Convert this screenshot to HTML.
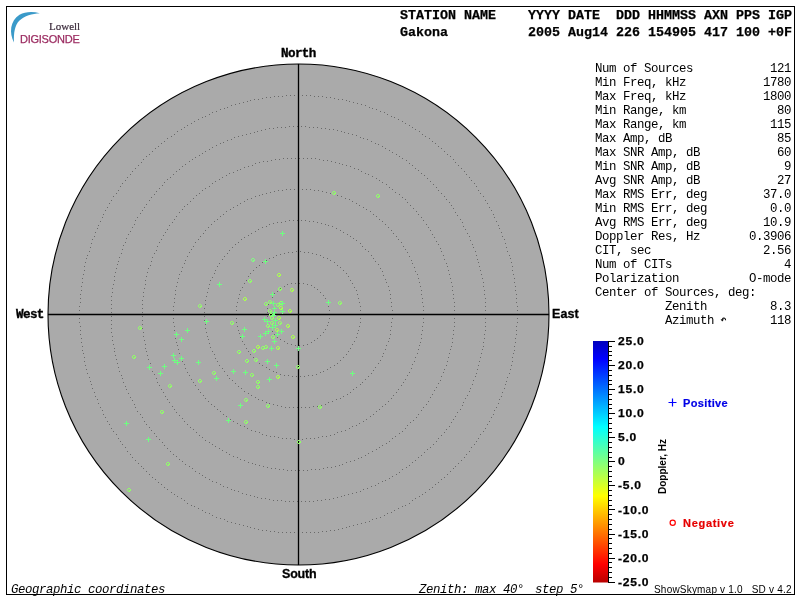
<!DOCTYPE html>
<html><head><meta charset="utf-8">
<style>
html,body{margin:0;padding:0;background:#fff;}
body{width:800px;height:600px;position:relative;overflow:hidden;}
.t{position:absolute;white-space:pre;line-height:1;will-change:transform;}
.hb{font-family:"Liberation Mono",monospace;font-weight:bold;font-size:13.33px;color:#000;-webkit-text-stroke:0.25px #000;}
.st{font-family:"Liberation Mono",monospace;font-size:12.4px;letter-spacing:-0.44px;color:#000;line-height:14px;}
.lb{font-family:"Liberation Mono",monospace;font-weight:bold;font-size:12px;color:#000;-webkit-text-stroke:0.35px #000;}
.cb{font-family:"Liberation Sans",sans-serif;font-weight:bold;font-size:11.2px;color:#000;letter-spacing:0.7px;transform:scaleX(1.08);transform-origin:0 0;-webkit-text-stroke:0.25px #000;}
.sb{font-family:"Liberation Sans",sans-serif;font-weight:bold;font-size:12.5px;color:#000;-webkit-text-stroke:0.3px #000;}
.it{font-family:"Liberation Mono",monospace;font-style:italic;font-size:12.4px;letter-spacing:-0.44px;color:#000;}
svg{position:absolute;left:0;top:0;}
</style></head><body>
<svg width="800" height="600" viewBox="0 0 800 600">
  <defs>
    <linearGradient id="jet" x1="0" y1="0" x2="0" y2="1">
      <stop offset="0" stop-color="#0000bc"/>
      <stop offset="0.0745" stop-color="#0000ff"/>
      <stop offset="0.356" stop-color="#00ffff"/>
      <stop offset="0.499" stop-color="#80ff80"/>
      <stop offset="0.642" stop-color="#ffff00"/>
      <stop offset="0.925" stop-color="#ff0000"/>
      <stop offset="1" stop-color="#b80000"/>
    </linearGradient>
  </defs>
  <rect x="6.5" y="6.5" width="788" height="588" fill="none" stroke="#000" stroke-width="1"/>
  <!-- logo arc -->
  <path d="M14 42.5 C 9 33, 10 21, 19.5 14.8 C 25 11.8, 32 11.2, 39.8 13.2 C 32 13.6, 24.5 15.8, 19.5 20.5 C 14.8 25, 13.5 33, 14 42.5 Z" fill="#3a9ac9"/>
  <circle cx="298.5" cy="314.5" r="250.5" fill="#aaaaaa" stroke="#000" stroke-width="1.1"/>
  <path d="M329 314h1v1h-1zM329 318h1v1h-1zM328 322h1v1h-1zM327 325h1v1h-1zM325 329h1v1h-1zM323 332h1v1h-1zM320 335h1v1h-1zM317 338h1v1h-1zM314 340h1v1h-1zM311 342h1v1h-1zM307 344h1v1h-1zM303 345h1v1h-1zM299 345h1v1h-1zM295 345h1v1h-1zM291 344h1v1h-1zM287 343h1v1h-1zM284 341h1v1h-1zM280 339h1v1h-1zM277 337h1v1h-1zM274 334h1v1h-1zM272 331h1v1h-1zM270 327h1v1h-1zM268 324h1v1h-1zM267 320h1v1h-1zM267 316h1v1h-1zM267 312h1v1h-1zM267 308h1v1h-1zM268 304h1v1h-1zM270 300h1v1h-1zM272 297h1v1h-1zM274 293h1v1h-1zM277 291h1v1h-1zM280 288h1v1h-1zM284 286h1v1h-1zM287 284h1v1h-1zM291 283h1v1h-1zM295 283h1v1h-1zM299 283h1v1h-1zM303 283h1v1h-1zM307 284h1v1h-1zM311 285h1v1h-1zM314 287h1v1h-1zM317 289h1v1h-1zM320 292h1v1h-1zM323 295h1v1h-1zM325 298h1v1h-1zM327 302h1v1h-1zM328 306h1v1h-1zM329 310h1v1h-1zM361 314h1v1h-1zM360 318h1v1h-1zM360 322h1v1h-1zM359 326h1v1h-1zM358 330h1v1h-1zM357 333h1v1h-1zM356 337h1v1h-1zM354 341h1v1h-1zM352 344h1v1h-1zM350 348h1v1h-1zM348 351h1v1h-1zM346 354h1v1h-1zM343 357h1v1h-1zM340 360h1v1h-1zM337 363h1v1h-1zM334 365h1v1h-1zM330 367h1v1h-1zM327 369h1v1h-1zM323 371h1v1h-1zM320 372h1v1h-1zM316 374h1v1h-1zM312 375h1v1h-1zM308 375h1v1h-1zM304 376h1v1h-1zM300 376h1v1h-1zM296 376h1v1h-1zM292 376h1v1h-1zM288 375h1v1h-1zM284 375h1v1h-1zM280 374h1v1h-1zM276 372h1v1h-1zM273 371h1v1h-1zM269 369h1v1h-1zM266 367h1v1h-1zM262 365h1v1h-1zM259 363h1v1h-1zM256 360h1v1h-1zM253 357h1v1h-1zM250 354h1v1h-1zM248 351h1v1h-1zM246 348h1v1h-1zM244 344h1v1h-1zM242 341h1v1h-1zM240 337h1v1h-1zM239 333h1v1h-1zM238 330h1v1h-1zM237 326h1v1h-1zM236 322h1v1h-1zM236 318h1v1h-1zM236 314h1v1h-1zM236 310h1v1h-1zM236 306h1v1h-1zM237 302h1v1h-1zM238 298h1v1h-1zM239 294h1v1h-1zM240 290h1v1h-1zM242 287h1v1h-1zM244 283h1v1h-1zM246 280h1v1h-1zM248 276h1v1h-1zM250 273h1v1h-1zM253 270h1v1h-1zM256 267h1v1h-1zM259 265h1v1h-1zM262 262h1v1h-1zM266 260h1v1h-1zM269 258h1v1h-1zM273 257h1v1h-1zM276 255h1v1h-1zM280 254h1v1h-1zM284 253h1v1h-1zM288 252h1v1h-1zM292 252h1v1h-1zM296 251h1v1h-1zM300 251h1v1h-1zM304 252h1v1h-1zM308 252h1v1h-1zM312 253h1v1h-1zM316 254h1v1h-1zM320 255h1v1h-1zM323 257h1v1h-1zM327 258h1v1h-1zM330 260h1v1h-1zM334 262h1v1h-1zM337 265h1v1h-1zM340 267h1v1h-1zM343 270h1v1h-1zM346 273h1v1h-1zM348 276h1v1h-1zM350 280h1v1h-1zM352 283h1v1h-1zM354 287h1v1h-1zM356 290h1v1h-1zM357 294h1v1h-1zM358 298h1v1h-1zM359 302h1v1h-1zM360 306h1v1h-1zM360 310h1v1h-1zM392 314h1v1h-1zM392 318h1v1h-1zM391 322h1v1h-1zM391 326h1v1h-1zM390 330h1v1h-1zM390 334h1v1h-1zM389 338h1v1h-1zM388 341h1v1h-1zM386 345h1v1h-1zM385 349h1v1h-1zM383 353h1v1h-1zM382 356h1v1h-1zM380 360h1v1h-1zM378 363h1v1h-1zM375 367h1v1h-1zM373 370h1v1h-1zM371 373h1v1h-1zM368 376h1v1h-1zM365 379h1v1h-1zM362 382h1v1h-1zM360 384h1v1h-1zM356 387h1v1h-1zM353 389h1v1h-1zM350 392h1v1h-1zM347 394h1v1h-1zM343 396h1v1h-1zM340 398h1v1h-1zM336 399h1v1h-1zM332 401h1v1h-1zM328 402h1v1h-1zM325 404h1v1h-1zM321 405h1v1h-1zM317 406h1v1h-1zM313 406h1v1h-1zM309 407h1v1h-1zM305 407h1v1h-1zM301 407h1v1h-1zM297 407h1v1h-1zM293 407h1v1h-1zM289 407h1v1h-1zM285 407h1v1h-1zM281 406h1v1h-1zM277 405h1v1h-1zM273 404h1v1h-1zM269 403h1v1h-1zM266 402h1v1h-1zM262 400h1v1h-1zM258 399h1v1h-1zM255 397h1v1h-1zM251 395h1v1h-1zM248 393h1v1h-1zM244 391h1v1h-1zM241 388h1v1h-1zM238 386h1v1h-1zM235 383h1v1h-1zM232 380h1v1h-1zM229 378h1v1h-1zM227 375h1v1h-1zM224 371h1v1h-1zM222 368h1v1h-1zM219 365h1v1h-1zM217 361h1v1h-1zM215 358h1v1h-1zM214 354h1v1h-1zM212 351h1v1h-1zM210 347h1v1h-1zM209 343h1v1h-1zM208 339h1v1h-1zM207 336h1v1h-1zM206 332h1v1h-1zM205 328h1v1h-1zM205 324h1v1h-1zM204 320h1v1h-1zM204 316h1v1h-1zM204 312h1v1h-1zM204 308h1v1h-1zM205 304h1v1h-1zM205 300h1v1h-1zM206 296h1v1h-1zM207 292h1v1h-1zM208 288h1v1h-1zM209 284h1v1h-1zM210 280h1v1h-1zM212 277h1v1h-1zM214 273h1v1h-1zM215 270h1v1h-1zM217 266h1v1h-1zM219 263h1v1h-1zM222 259h1v1h-1zM224 256h1v1h-1zM227 253h1v1h-1zM229 250h1v1h-1zM232 247h1v1h-1zM235 244h1v1h-1zM238 242h1v1h-1zM241 239h1v1h-1zM244 237h1v1h-1zM248 235h1v1h-1zM251 233h1v1h-1zM255 231h1v1h-1zM258 229h1v1h-1zM262 227h1v1h-1zM266 226h1v1h-1zM269 224h1v1h-1zM273 223h1v1h-1zM277 222h1v1h-1zM281 222h1v1h-1zM285 221h1v1h-1zM289 220h1v1h-1zM293 220h1v1h-1zM297 220h1v1h-1zM301 220h1v1h-1zM305 220h1v1h-1zM309 221h1v1h-1zM313 221h1v1h-1zM317 222h1v1h-1zM321 223h1v1h-1zM325 224h1v1h-1zM328 225h1v1h-1zM332 226h1v1h-1zM336 228h1v1h-1zM340 230h1v1h-1zM343 232h1v1h-1zM347 234h1v1h-1zM350 236h1v1h-1zM353 238h1v1h-1zM356 240h1v1h-1zM360 243h1v1h-1zM362 246h1v1h-1zM365 249h1v1h-1zM368 251h1v1h-1zM371 255h1v1h-1zM373 258h1v1h-1zM375 261h1v1h-1zM378 264h1v1h-1zM380 268h1v1h-1zM382 271h1v1h-1zM383 275h1v1h-1zM385 279h1v1h-1zM386 282h1v1h-1zM388 286h1v1h-1zM389 290h1v1h-1zM390 294h1v1h-1zM390 298h1v1h-1zM391 302h1v1h-1zM391 306h1v1h-1zM392 310h1v1h-1zM423 314h1v1h-1zM423 318h1v1h-1zM423 322h1v1h-1zM422 326h1v1h-1zM422 330h1v1h-1zM421 334h1v1h-1zM421 338h1v1h-1zM420 342h1v1h-1zM419 345h1v1h-1zM418 349h1v1h-1zM417 353h1v1h-1zM415 357h1v1h-1zM414 361h1v1h-1zM412 364h1v1h-1zM411 368h1v1h-1zM409 372h1v1h-1zM407 375h1v1h-1zM405 379h1v1h-1zM403 382h1v1h-1zM401 385h1v1h-1zM398 389h1v1h-1zM396 392h1v1h-1zM393 395h1v1h-1zM391 398h1v1h-1zM388 401h1v1h-1zM385 404h1v1h-1zM382 406h1v1h-1zM379 409h1v1h-1zM376 411h1v1h-1zM373 414h1v1h-1zM370 416h1v1h-1zM366 419h1v1h-1zM363 421h1v1h-1zM359 423h1v1h-1zM356 425h1v1h-1zM352 426h1v1h-1zM349 428h1v1h-1zM345 430h1v1h-1zM341 431h1v1h-1zM337 432h1v1h-1zM334 434h1v1h-1zM330 435h1v1h-1zM326 436h1v1h-1zM322 436h1v1h-1zM318 437h1v1h-1zM314 438h1v1h-1zM310 438h1v1h-1zM306 438h1v1h-1zM302 439h1v1h-1zM298 439h1v1h-1zM294 439h1v1h-1zM290 438h1v1h-1zM286 438h1v1h-1zM282 438h1v1h-1zM278 437h1v1h-1zM274 436h1v1h-1zM270 436h1v1h-1zM266 435h1v1h-1zM262 434h1v1h-1zM259 432h1v1h-1zM255 431h1v1h-1zM251 430h1v1h-1zM247 428h1v1h-1zM244 426h1v1h-1zM240 425h1v1h-1zM237 423h1v1h-1zM233 421h1v1h-1zM230 419h1v1h-1zM226 416h1v1h-1zM223 414h1v1h-1zM220 411h1v1h-1zM217 409h1v1h-1zM214 406h1v1h-1zM211 404h1v1h-1zM208 401h1v1h-1zM205 398h1v1h-1zM203 395h1v1h-1zM200 392h1v1h-1zM198 389h1v1h-1zM195 385h1v1h-1zM193 382h1v1h-1zM191 379h1v1h-1zM189 375h1v1h-1zM187 372h1v1h-1zM185 368h1v1h-1zM184 364h1v1h-1zM182 361h1v1h-1zM181 357h1v1h-1zM179 353h1v1h-1zM178 349h1v1h-1zM177 345h1v1h-1zM176 342h1v1h-1zM175 338h1v1h-1zM175 334h1v1h-1zM174 330h1v1h-1zM174 326h1v1h-1zM173 322h1v1h-1zM173 318h1v1h-1zM173 314h1v1h-1zM173 310h1v1h-1zM173 306h1v1h-1zM174 302h1v1h-1zM174 298h1v1h-1zM175 294h1v1h-1zM175 290h1v1h-1zM176 286h1v1h-1zM177 282h1v1h-1zM178 278h1v1h-1zM179 274h1v1h-1zM181 271h1v1h-1zM182 267h1v1h-1zM184 263h1v1h-1zM185 260h1v1h-1zM187 256h1v1h-1zM189 252h1v1h-1zM191 249h1v1h-1zM193 246h1v1h-1zM195 242h1v1h-1zM198 239h1v1h-1zM200 236h1v1h-1zM203 233h1v1h-1zM205 230h1v1h-1zM208 227h1v1h-1zM211 224h1v1h-1zM214 221h1v1h-1zM217 219h1v1h-1zM220 216h1v1h-1zM223 214h1v1h-1zM226 211h1v1h-1zM230 209h1v1h-1zM233 207h1v1h-1zM237 205h1v1h-1zM240 203h1v1h-1zM244 201h1v1h-1zM247 199h1v1h-1zM251 198h1v1h-1zM255 196h1v1h-1zM259 195h1v1h-1zM262 194h1v1h-1zM266 193h1v1h-1zM270 192h1v1h-1zM274 191h1v1h-1zM278 190h1v1h-1zM282 190h1v1h-1zM286 189h1v1h-1zM290 189h1v1h-1zM294 189h1v1h-1zM298 189h1v1h-1zM302 189h1v1h-1zM306 189h1v1h-1zM310 189h1v1h-1zM314 190h1v1h-1zM318 190h1v1h-1zM322 191h1v1h-1zM326 192h1v1h-1zM330 193h1v1h-1zM334 194h1v1h-1zM337 195h1v1h-1zM341 196h1v1h-1zM345 198h1v1h-1zM349 199h1v1h-1zM352 201h1v1h-1zM356 203h1v1h-1zM359 205h1v1h-1zM363 207h1v1h-1zM366 209h1v1h-1zM370 211h1v1h-1zM373 214h1v1h-1zM376 216h1v1h-1zM379 219h1v1h-1zM382 221h1v1h-1zM385 224h1v1h-1zM388 227h1v1h-1zM391 230h1v1h-1zM393 233h1v1h-1zM396 236h1v1h-1zM398 239h1v1h-1zM401 242h1v1h-1zM403 246h1v1h-1zM405 249h1v1h-1zM407 252h1v1h-1zM409 256h1v1h-1zM411 260h1v1h-1zM412 263h1v1h-1zM414 267h1v1h-1zM415 271h1v1h-1zM417 274h1v1h-1zM418 278h1v1h-1zM419 282h1v1h-1zM420 286h1v1h-1zM421 290h1v1h-1zM421 294h1v1h-1zM422 298h1v1h-1zM422 302h1v1h-1zM423 306h1v1h-1zM423 310h1v1h-1zM454 314h1v1h-1zM454 318h1v1h-1zM454 322h1v1h-1zM454 326h1v1h-1zM453 330h1v1h-1zM453 334h1v1h-1zM452 338h1v1h-1zM452 342h1v1h-1zM451 346h1v1h-1zM450 349h1v1h-1zM449 353h1v1h-1zM448 357h1v1h-1zM447 361h1v1h-1zM446 365h1v1h-1zM444 369h1v1h-1zM443 372h1v1h-1zM441 376h1v1h-1zM440 380h1v1h-1zM438 383h1v1h-1zM436 387h1v1h-1zM434 390h1v1h-1zM432 394h1v1h-1zM430 397h1v1h-1zM428 401h1v1h-1zM426 404h1v1h-1zM423 407h1v1h-1zM421 410h1v1h-1zM418 414h1v1h-1zM416 417h1v1h-1zM413 420h1v1h-1zM410 422h1v1h-1zM407 425h1v1h-1zM405 428h1v1h-1zM402 431h1v1h-1zM399 433h1v1h-1zM395 436h1v1h-1zM392 438h1v1h-1zM389 441h1v1h-1zM386 443h1v1h-1zM382 445h1v1h-1zM379 447h1v1h-1zM376 449h1v1h-1zM372 451h1v1h-1zM368 453h1v1h-1zM365 455h1v1h-1zM361 457h1v1h-1zM358 458h1v1h-1zM354 460h1v1h-1zM350 461h1v1h-1zM346 462h1v1h-1zM342 464h1v1h-1zM339 465h1v1h-1zM335 466h1v1h-1zM331 467h1v1h-1zM327 467h1v1h-1zM323 468h1v1h-1zM319 469h1v1h-1zM315 469h1v1h-1zM311 469h1v1h-1zM307 470h1v1h-1zM303 470h1v1h-1zM299 470h1v1h-1zM295 470h1v1h-1zM291 470h1v1h-1zM287 470h1v1h-1zM283 469h1v1h-1zM279 469h1v1h-1zM275 468h1v1h-1zM271 468h1v1h-1zM267 467h1v1h-1zM263 466h1v1h-1zM259 465h1v1h-1zM255 464h1v1h-1zM252 463h1v1h-1zM248 462h1v1h-1zM244 460h1v1h-1zM240 459h1v1h-1zM237 457h1v1h-1zM233 456h1v1h-1zM229 454h1v1h-1zM226 452h1v1h-1zM222 450h1v1h-1zM219 448h1v1h-1zM215 446h1v1h-1zM212 444h1v1h-1zM209 442h1v1h-1zM205 440h1v1h-1zM202 437h1v1h-1zM199 435h1v1h-1zM196 432h1v1h-1zM193 429h1v1h-1zM190 427h1v1h-1zM187 424h1v1h-1zM184 421h1v1h-1zM182 418h1v1h-1zM179 415h1v1h-1zM176 412h1v1h-1zM174 409h1v1h-1zM172 406h1v1h-1zM169 402h1v1h-1zM167 399h1v1h-1zM165 396h1v1h-1zM163 392h1v1h-1zM161 389h1v1h-1zM159 385h1v1h-1zM157 382h1v1h-1zM156 378h1v1h-1zM154 374h1v1h-1zM152 371h1v1h-1zM151 367h1v1h-1zM150 363h1v1h-1zM148 359h1v1h-1zM147 355h1v1h-1zM146 351h1v1h-1zM145 348h1v1h-1zM145 344h1v1h-1zM144 340h1v1h-1zM143 336h1v1h-1zM143 332h1v1h-1zM142 328h1v1h-1zM142 324h1v1h-1zM142 320h1v1h-1zM142 316h1v1h-1zM142 312h1v1h-1zM142 308h1v1h-1zM142 304h1v1h-1zM142 300h1v1h-1zM143 296h1v1h-1zM143 292h1v1h-1zM144 288h1v1h-1zM145 284h1v1h-1zM145 280h1v1h-1zM146 276h1v1h-1zM147 272h1v1h-1zM148 268h1v1h-1zM150 265h1v1h-1zM151 261h1v1h-1zM152 257h1v1h-1zM154 253h1v1h-1zM156 250h1v1h-1zM157 246h1v1h-1zM159 242h1v1h-1zM161 239h1v1h-1zM163 235h1v1h-1zM165 232h1v1h-1zM167 229h1v1h-1zM169 225h1v1h-1zM172 222h1v1h-1zM174 219h1v1h-1zM176 216h1v1h-1zM179 212h1v1h-1zM182 209h1v1h-1zM184 206h1v1h-1zM187 204h1v1h-1zM190 201h1v1h-1zM193 198h1v1h-1zM196 195h1v1h-1zM199 193h1v1h-1zM202 190h1v1h-1zM205 188h1v1h-1zM209 186h1v1h-1zM212 183h1v1h-1zM215 181h1v1h-1zM219 179h1v1h-1zM222 177h1v1h-1zM226 175h1v1h-1zM229 173h1v1h-1zM233 172h1v1h-1zM237 170h1v1h-1zM240 169h1v1h-1zM244 167h1v1h-1zM248 166h1v1h-1zM252 165h1v1h-1zM255 163h1v1h-1zM259 162h1v1h-1zM263 161h1v1h-1zM267 161h1v1h-1zM271 160h1v1h-1zM275 159h1v1h-1zM279 159h1v1h-1zM283 158h1v1h-1zM287 158h1v1h-1zM291 158h1v1h-1zM295 158h1v1h-1zM299 158h1v1h-1zM303 158h1v1h-1zM307 158h1v1h-1zM311 158h1v1h-1zM315 158h1v1h-1zM319 159h1v1h-1zM323 160h1v1h-1zM327 160h1v1h-1zM331 161h1v1h-1zM335 162h1v1h-1zM339 163h1v1h-1zM342 164h1v1h-1zM346 165h1v1h-1zM350 166h1v1h-1zM354 168h1v1h-1zM358 169h1v1h-1zM361 171h1v1h-1zM365 173h1v1h-1zM368 174h1v1h-1zM372 176h1v1h-1zM376 178h1v1h-1zM379 180h1v1h-1zM382 182h1v1h-1zM386 184h1v1h-1zM389 187h1v1h-1zM392 189h1v1h-1zM395 192h1v1h-1zM399 194h1v1h-1zM402 197h1v1h-1zM405 199h1v1h-1zM407 202h1v1h-1zM410 205h1v1h-1zM413 208h1v1h-1zM416 211h1v1h-1zM418 214h1v1h-1zM421 217h1v1h-1zM423 220h1v1h-1zM426 224h1v1h-1zM428 227h1v1h-1zM430 230h1v1h-1zM432 234h1v1h-1zM434 237h1v1h-1zM436 241h1v1h-1zM438 244h1v1h-1zM440 248h1v1h-1zM441 251h1v1h-1zM443 255h1v1h-1zM444 259h1v1h-1zM446 263h1v1h-1zM447 266h1v1h-1zM448 270h1v1h-1zM449 274h1v1h-1zM450 278h1v1h-1zM451 282h1v1h-1zM452 286h1v1h-1zM452 290h1v1h-1zM453 294h1v1h-1zM453 298h1v1h-1zM454 302h1v1h-1zM454 306h1v1h-1zM454 310h1v1h-1zM486 314h1v1h-1zM485 318h1v1h-1zM485 322h1v1h-1zM485 326h1v1h-1zM485 330h1v1h-1zM484 334h1v1h-1zM484 338h1v1h-1zM483 342h1v1h-1zM483 346h1v1h-1zM482 349h1v1h-1zM481 353h1v1h-1zM480 357h1v1h-1zM479 361h1v1h-1zM478 365h1v1h-1zM477 369h1v1h-1zM476 373h1v1h-1zM475 376h1v1h-1zM473 380h1v1h-1zM472 384h1v1h-1zM470 388h1v1h-1zM469 391h1v1h-1zM467 395h1v1h-1zM465 398h1v1h-1zM463 402h1v1h-1zM462 405h1v1h-1zM460 409h1v1h-1zM457 412h1v1h-1zM455 416h1v1h-1zM453 419h1v1h-1zM451 422h1v1h-1zM449 426h1v1h-1zM446 429h1v1h-1zM444 432h1v1h-1zM441 435h1v1h-1zM438 438h1v1h-1zM436 441h1v1h-1zM433 444h1v1h-1zM430 447h1v1h-1zM427 449h1v1h-1zM424 452h1v1h-1zM421 455h1v1h-1zM418 457h1v1h-1zM415 460h1v1h-1zM412 462h1v1h-1zM409 465h1v1h-1zM406 467h1v1h-1zM402 469h1v1h-1zM399 472h1v1h-1zM396 474h1v1h-1zM392 476h1v1h-1zM389 478h1v1h-1zM385 480h1v1h-1zM382 481h1v1h-1zM378 483h1v1h-1zM375 485h1v1h-1zM371 486h1v1h-1zM367 488h1v1h-1zM363 489h1v1h-1zM360 491h1v1h-1zM356 492h1v1h-1zM352 493h1v1h-1zM348 494h1v1h-1zM344 495h1v1h-1zM341 496h1v1h-1zM337 497h1v1h-1zM333 498h1v1h-1zM329 499h1v1h-1zM325 499h1v1h-1zM321 500h1v1h-1zM317 500h1v1h-1zM313 501h1v1h-1zM309 501h1v1h-1zM305 501h1v1h-1zM301 501h1v1h-1zM297 501h1v1h-1zM293 501h1v1h-1zM289 501h1v1h-1zM285 501h1v1h-1zM281 500h1v1h-1zM277 500h1v1h-1zM273 500h1v1h-1zM269 499h1v1h-1zM265 498h1v1h-1zM261 498h1v1h-1zM257 497h1v1h-1zM254 496h1v1h-1zM250 495h1v1h-1zM246 494h1v1h-1zM242 493h1v1h-1zM238 491h1v1h-1zM234 490h1v1h-1zM231 489h1v1h-1zM227 487h1v1h-1zM223 486h1v1h-1zM220 484h1v1h-1zM216 482h1v1h-1zM212 481h1v1h-1zM209 479h1v1h-1zM205 477h1v1h-1zM202 475h1v1h-1zM199 473h1v1h-1zM195 471h1v1h-1zM192 468h1v1h-1zM189 466h1v1h-1zM185 464h1v1h-1zM182 461h1v1h-1zM179 459h1v1h-1zM176 456h1v1h-1zM173 454h1v1h-1zM170 451h1v1h-1zM167 448h1v1h-1zM164 445h1v1h-1zM162 442h1v1h-1zM159 439h1v1h-1zM156 436h1v1h-1zM154 433h1v1h-1zM151 430h1v1h-1zM149 427h1v1h-1zM146 424h1v1h-1zM144 421h1v1h-1zM142 417h1v1h-1zM140 414h1v1h-1zM137 411h1v1h-1zM135 407h1v1h-1zM134 404h1v1h-1zM132 400h1v1h-1zM130 397h1v1h-1zM128 393h1v1h-1zM126 389h1v1h-1zM125 386h1v1h-1zM123 382h1v1h-1zM122 378h1v1h-1zM121 375h1v1h-1zM119 371h1v1h-1zM118 367h1v1h-1zM117 363h1v1h-1zM116 359h1v1h-1zM115 355h1v1h-1zM114 351h1v1h-1zM114 348h1v1h-1zM113 344h1v1h-1zM112 340h1v1h-1zM112 336h1v1h-1zM111 332h1v1h-1zM111 328h1v1h-1zM111 324h1v1h-1zM111 320h1v1h-1zM111 316h1v1h-1zM111 312h1v1h-1zM111 308h1v1h-1zM111 304h1v1h-1zM111 300h1v1h-1zM111 296h1v1h-1zM112 292h1v1h-1zM112 288h1v1h-1zM113 284h1v1h-1zM114 280h1v1h-1zM114 276h1v1h-1zM115 272h1v1h-1zM116 268h1v1h-1zM117 264h1v1h-1zM118 261h1v1h-1zM119 257h1v1h-1zM121 253h1v1h-1zM122 249h1v1h-1zM123 245h1v1h-1zM125 242h1v1h-1zM126 238h1v1h-1zM128 234h1v1h-1zM130 231h1v1h-1zM132 227h1v1h-1zM134 224h1v1h-1zM135 220h1v1h-1zM137 217h1v1h-1zM140 213h1v1h-1zM142 210h1v1h-1zM144 207h1v1h-1zM146 204h1v1h-1zM149 200h1v1h-1zM151 197h1v1h-1zM154 194h1v1h-1zM156 191h1v1h-1zM159 188h1v1h-1zM162 185h1v1h-1zM164 182h1v1h-1zM167 179h1v1h-1zM170 177h1v1h-1zM173 174h1v1h-1zM176 171h1v1h-1zM179 169h1v1h-1zM182 166h1v1h-1zM185 164h1v1h-1zM189 161h1v1h-1zM192 159h1v1h-1zM195 157h1v1h-1zM199 155h1v1h-1zM202 153h1v1h-1zM205 151h1v1h-1zM209 149h1v1h-1zM212 147h1v1h-1zM216 145h1v1h-1zM220 143h1v1h-1zM223 142h1v1h-1zM227 140h1v1h-1zM231 139h1v1h-1zM234 137h1v1h-1zM238 136h1v1h-1zM242 135h1v1h-1zM246 134h1v1h-1zM250 133h1v1h-1zM254 132h1v1h-1zM257 131h1v1h-1zM261 130h1v1h-1zM265 129h1v1h-1zM269 128h1v1h-1zM273 128h1v1h-1zM277 127h1v1h-1zM281 127h1v1h-1zM285 127h1v1h-1zM289 126h1v1h-1zM293 126h1v1h-1zM297 126h1v1h-1zM301 126h1v1h-1zM305 126h1v1h-1zM309 127h1v1h-1zM313 127h1v1h-1zM317 127h1v1h-1zM321 128h1v1h-1zM325 128h1v1h-1zM329 129h1v1h-1zM333 129h1v1h-1zM337 130h1v1h-1zM341 131h1v1h-1zM344 132h1v1h-1zM348 133h1v1h-1zM352 134h1v1h-1zM356 135h1v1h-1zM360 137h1v1h-1zM363 138h1v1h-1zM367 139h1v1h-1zM371 141h1v1h-1zM375 143h1v1h-1zM378 144h1v1h-1zM382 146h1v1h-1zM385 148h1v1h-1zM389 150h1v1h-1zM392 152h1v1h-1zM396 154h1v1h-1zM399 156h1v1h-1zM402 158h1v1h-1zM406 160h1v1h-1zM409 163h1v1h-1zM412 165h1v1h-1zM415 168h1v1h-1zM418 170h1v1h-1zM421 173h1v1h-1zM424 175h1v1h-1zM427 178h1v1h-1zM430 181h1v1h-1zM433 184h1v1h-1zM436 187h1v1h-1zM438 190h1v1h-1zM441 193h1v1h-1zM444 196h1v1h-1zM446 199h1v1h-1zM449 202h1v1h-1zM451 205h1v1h-1zM453 208h1v1h-1zM455 212h1v1h-1zM457 215h1v1h-1zM460 219h1v1h-1zM462 222h1v1h-1zM463 226h1v1h-1zM465 229h1v1h-1zM467 233h1v1h-1zM469 236h1v1h-1zM470 240h1v1h-1zM472 244h1v1h-1zM473 247h1v1h-1zM475 251h1v1h-1zM476 255h1v1h-1zM477 259h1v1h-1zM478 262h1v1h-1zM479 266h1v1h-1zM480 270h1v1h-1zM481 274h1v1h-1zM482 278h1v1h-1zM483 282h1v1h-1zM483 286h1v1h-1zM484 290h1v1h-1zM484 294h1v1h-1zM485 298h1v1h-1zM485 302h1v1h-1zM485 306h1v1h-1zM485 310h1v1h-1zM517 314h1v1h-1zM517 318h1v1h-1zM517 322h1v1h-1zM516 326h1v1h-1zM516 330h1v1h-1zM516 334h1v1h-1zM515 338h1v1h-1zM515 342h1v1h-1zM514 346h1v1h-1zM514 350h1v1h-1zM513 353h1v1h-1zM512 357h1v1h-1zM512 361h1v1h-1zM511 365h1v1h-1zM510 369h1v1h-1zM509 373h1v1h-1zM507 377h1v1h-1zM506 381h1v1h-1zM505 384h1v1h-1zM504 388h1v1h-1zM502 392h1v1h-1zM501 396h1v1h-1zM499 399h1v1h-1zM498 403h1v1h-1zM496 407h1v1h-1zM494 410h1v1h-1zM493 414h1v1h-1zM491 417h1v1h-1zM489 421h1v1h-1zM487 424h1v1h-1zM485 428h1v1h-1zM483 431h1v1h-1zM480 434h1v1h-1zM478 438h1v1h-1zM476 441h1v1h-1zM474 444h1v1h-1zM471 447h1v1h-1zM469 451h1v1h-1zM466 454h1v1h-1zM464 457h1v1h-1zM461 460h1v1h-1zM458 463h1v1h-1zM455 466h1v1h-1zM453 468h1v1h-1zM450 471h1v1h-1zM447 474h1v1h-1zM444 477h1v1h-1zM441 479h1v1h-1zM438 482h1v1h-1zM435 484h1v1h-1zM432 487h1v1h-1zM429 489h1v1h-1zM425 492h1v1h-1zM422 494h1v1h-1zM419 496h1v1h-1zM415 498h1v1h-1zM412 500h1v1h-1zM409 503h1v1h-1zM405 505h1v1h-1zM402 506h1v1h-1zM398 508h1v1h-1zM394 510h1v1h-1zM391 512h1v1h-1zM387 513h1v1h-1zM384 515h1v1h-1zM380 517h1v1h-1zM376 518h1v1h-1zM372 519h1v1h-1zM369 521h1v1h-1zM365 522h1v1h-1zM361 523h1v1h-1zM357 524h1v1h-1zM353 525h1v1h-1zM349 526h1v1h-1zM346 527h1v1h-1zM342 528h1v1h-1zM338 529h1v1h-1zM334 530h1v1h-1zM330 530h1v1h-1zM326 531h1v1h-1zM322 531h1v1h-1zM318 532h1v1h-1zM314 532h1v1h-1zM310 532h1v1h-1zM306 532h1v1h-1zM302 532h1v1h-1zM298 533h1v1h-1zM294 532h1v1h-1zM290 532h1v1h-1zM286 532h1v1h-1zM282 532h1v1h-1zM278 532h1v1h-1zM274 531h1v1h-1zM270 531h1v1h-1zM266 530h1v1h-1zM262 530h1v1h-1zM258 529h1v1h-1zM254 528h1v1h-1zM250 527h1v1h-1zM247 526h1v1h-1zM243 525h1v1h-1zM239 524h1v1h-1zM235 523h1v1h-1zM231 522h1v1h-1zM227 521h1v1h-1zM224 519h1v1h-1zM220 518h1v1h-1zM216 517h1v1h-1zM212 515h1v1h-1zM209 513h1v1h-1zM205 512h1v1h-1zM202 510h1v1h-1zM198 508h1v1h-1zM194 506h1v1h-1zM191 505h1v1h-1zM187 503h1v1h-1zM184 500h1v1h-1zM181 498h1v1h-1zM177 496h1v1h-1zM174 494h1v1h-1zM171 492h1v1h-1zM167 489h1v1h-1zM164 487h1v1h-1zM161 484h1v1h-1zM158 482h1v1h-1zM155 479h1v1h-1zM152 477h1v1h-1zM149 474h1v1h-1zM146 471h1v1h-1zM143 468h1v1h-1zM141 466h1v1h-1zM138 463h1v1h-1zM135 460h1v1h-1zM132 457h1v1h-1zM130 454h1v1h-1zM127 451h1v1h-1zM125 447h1v1h-1zM122 444h1v1h-1zM120 441h1v1h-1zM118 438h1v1h-1zM116 434h1v1h-1zM113 431h1v1h-1zM111 428h1v1h-1zM109 424h1v1h-1zM107 421h1v1h-1zM105 417h1v1h-1zM103 414h1v1h-1zM102 410h1v1h-1zM100 407h1v1h-1zM98 403h1v1h-1zM97 399h1v1h-1zM95 396h1v1h-1zM94 392h1v1h-1zM92 388h1v1h-1zM91 384h1v1h-1zM90 381h1v1h-1zM89 377h1v1h-1zM87 373h1v1h-1zM86 369h1v1h-1zM85 365h1v1h-1zM84 361h1v1h-1zM84 357h1v1h-1zM83 353h1v1h-1zM82 350h1v1h-1zM82 346h1v1h-1zM81 342h1v1h-1zM81 338h1v1h-1zM80 334h1v1h-1zM80 330h1v1h-1zM80 326h1v1h-1zM79 322h1v1h-1zM79 318h1v1h-1zM79 314h1v1h-1zM79 310h1v1h-1zM79 306h1v1h-1zM80 302h1v1h-1zM80 298h1v1h-1zM80 294h1v1h-1zM81 290h1v1h-1zM81 286h1v1h-1zM82 282h1v1h-1zM82 278h1v1h-1zM83 274h1v1h-1zM84 270h1v1h-1zM84 266h1v1h-1zM85 262h1v1h-1zM86 258h1v1h-1zM87 255h1v1h-1zM89 251h1v1h-1zM90 247h1v1h-1zM91 243h1v1h-1zM92 239h1v1h-1zM94 236h1v1h-1zM95 232h1v1h-1zM97 228h1v1h-1zM98 225h1v1h-1zM100 221h1v1h-1zM102 217h1v1h-1zM103 214h1v1h-1zM105 210h1v1h-1zM107 207h1v1h-1zM109 203h1v1h-1zM111 200h1v1h-1zM113 196h1v1h-1zM116 193h1v1h-1zM118 190h1v1h-1zM120 186h1v1h-1zM122 183h1v1h-1zM125 180h1v1h-1zM127 177h1v1h-1zM130 174h1v1h-1zM132 171h1v1h-1zM135 168h1v1h-1zM138 165h1v1h-1zM141 162h1v1h-1zM143 159h1v1h-1zM146 156h1v1h-1zM149 154h1v1h-1zM152 151h1v1h-1zM155 148h1v1h-1zM158 146h1v1h-1zM161 143h1v1h-1zM164 141h1v1h-1zM167 138h1v1h-1zM171 136h1v1h-1zM174 134h1v1h-1zM177 131h1v1h-1zM181 129h1v1h-1zM184 127h1v1h-1zM187 125h1v1h-1zM191 123h1v1h-1zM194 121h1v1h-1zM198 119h1v1h-1zM202 117h1v1h-1zM205 116h1v1h-1zM209 114h1v1h-1zM212 112h1v1h-1zM216 111h1v1h-1zM220 109h1v1h-1zM224 108h1v1h-1zM227 107h1v1h-1zM231 105h1v1h-1zM235 104h1v1h-1zM239 103h1v1h-1zM243 102h1v1h-1zM247 101h1v1h-1zM250 100h1v1h-1zM254 99h1v1h-1zM258 99h1v1h-1zM262 98h1v1h-1zM266 97h1v1h-1zM270 97h1v1h-1zM274 96h1v1h-1zM278 96h1v1h-1zM282 96h1v1h-1zM286 95h1v1h-1zM290 95h1v1h-1zM294 95h1v1h-1zM298 95h1v1h-1zM302 95h1v1h-1zM306 95h1v1h-1zM310 95h1v1h-1zM314 96h1v1h-1zM318 96h1v1h-1zM322 96h1v1h-1zM326 97h1v1h-1zM330 97h1v1h-1zM334 98h1v1h-1zM338 99h1v1h-1zM342 99h1v1h-1zM346 100h1v1h-1zM349 101h1v1h-1zM353 102h1v1h-1zM357 103h1v1h-1zM361 104h1v1h-1zM365 105h1v1h-1zM369 107h1v1h-1zM372 108h1v1h-1zM376 109h1v1h-1zM380 111h1v1h-1zM384 112h1v1h-1zM387 114h1v1h-1zM391 116h1v1h-1zM394 117h1v1h-1zM398 119h1v1h-1zM402 121h1v1h-1zM405 123h1v1h-1zM409 125h1v1h-1zM412 127h1v1h-1zM415 129h1v1h-1zM419 131h1v1h-1zM422 134h1v1h-1zM425 136h1v1h-1zM429 138h1v1h-1zM432 141h1v1h-1zM435 143h1v1h-1zM438 146h1v1h-1zM441 148h1v1h-1zM444 151h1v1h-1zM447 154h1v1h-1zM450 156h1v1h-1zM453 159h1v1h-1zM455 162h1v1h-1zM458 165h1v1h-1zM461 168h1v1h-1zM464 171h1v1h-1zM466 174h1v1h-1zM469 177h1v1h-1zM471 180h1v1h-1zM474 183h1v1h-1zM476 186h1v1h-1zM478 190h1v1h-1zM480 193h1v1h-1zM483 196h1v1h-1zM485 200h1v1h-1zM487 203h1v1h-1zM489 207h1v1h-1zM491 210h1v1h-1zM493 214h1v1h-1zM494 217h1v1h-1zM496 221h1v1h-1zM498 225h1v1h-1zM499 228h1v1h-1zM501 232h1v1h-1zM502 236h1v1h-1zM504 239h1v1h-1zM505 243h1v1h-1zM506 247h1v1h-1zM507 251h1v1h-1zM509 255h1v1h-1zM510 258h1v1h-1zM511 262h1v1h-1zM512 266h1v1h-1zM512 270h1v1h-1zM513 274h1v1h-1zM514 278h1v1h-1zM514 282h1v1h-1zM515 286h1v1h-1zM515 290h1v1h-1zM516 294h1v1h-1zM516 298h1v1h-1zM516 302h1v1h-1zM517 306h1v1h-1zM517 310h1v1h-1z" fill="#6a6a6a" shape-rendering="crispEdges"/>
  <line x1="298.5" y1="64" x2="298.5" y2="565" stroke="#000" stroke-width="1.3"/>
  <line x1="48" y1="314.5" x2="549" y2="314.5" stroke="#000" stroke-width="1.3"/>
  <g stroke-width="1" shape-rendering="crispEdges">
<path d="M333 191h2v1h-2zM332 192h1v2h-1zM335 192h1v2h-1zM333 194h2v1h-2zM334 193h1v1h-1z" fill="#90ff68"/>
<path d="M377 194h2v1h-2zM376 195h1v2h-1zM379 195h1v2h-1zM377 197h2v1h-2zM378 196h1v1h-1z" fill="#90ff68"/>
<path d="M280.0 233.5h5M282.5 231.0v5" stroke="#6eff80" fill="none"/>
<path d="M252 258h2v1h-2zM251 259h1v2h-1zM254 259h1v2h-1zM252 261h2v1h-2zM253 260h1v1h-1z" fill="#80ff80"/>
<path d="M263.0 261.5h5M265.5 259.0v5" stroke="#6eff80" fill="none"/>
<path d="M278 273h2v1h-2zM277 274h1v2h-1zM280 274h1v2h-1zM278 276h2v1h-2zM279 275h1v1h-1z" fill="#a8ff50"/>
<path d="M217.0 284.5h5M219.5 282.0v5" stroke="#6eff80" fill="none"/>
<path d="M249 279h2v1h-2zM248 280h1v2h-1zM251 280h1v2h-1zM249 282h2v1h-2zM250 281h1v1h-1z" fill="#90ff68"/>
<path d="M244 297h2v1h-2zM243 298h1v2h-1zM246 298h1v2h-1zM244 300h2v1h-2zM245 299h1v1h-1z" fill="#a8ff50"/>
<path d="M199 304h2v1h-2zM198 305h1v2h-1zM201 305h1v2h-1zM199 307h2v1h-2zM200 306h1v1h-1z" fill="#90ff68"/>
<path d="M204.0 321.5h5M206.5 319.0v5" stroke="#6eff80" fill="none"/>
<path d="M231 321h2v1h-2zM230 322h1v2h-1zM233 322h1v2h-1zM231 324h2v1h-2zM232 323h1v1h-1z" fill="#90ff68"/>
<path d="M279 287h2v1h-2zM278 288h1v2h-1zM281 288h1v2h-1zM279 290h2v1h-2zM280 289h1v1h-1z" fill="#90ff68"/>
<path d="M291 288h2v1h-2zM290 289h1v2h-1zM293 289h1v2h-1zM291 291h2v1h-2zM292 290h1v1h-1z" fill="#a8ff50"/>
<path d="M270.0 294.5h5M272.5 292.0v5" stroke="#6eff80" fill="none"/>
<path d="M265 302h2v1h-2zM264 303h1v2h-1zM267 303h1v2h-1zM265 305h2v1h-2zM266 304h1v1h-1z" fill="#90ff68"/>
<path d="M269 300h2v1h-2zM268 301h1v2h-1zM271 301h1v2h-1zM269 303h2v1h-2zM270 302h1v1h-1z" fill="#90ff68"/>
<path d="M271.0 303.5h5M273.5 301.0v5" stroke="#6eff80" fill="none"/>
<path d="M277 303h2v1h-2zM276 304h1v2h-1zM279 304h1v2h-1zM277 306h2v1h-2zM278 305h1v1h-1z" fill="#90ff68"/>
<path d="M280 301h2v1h-2zM279 302h1v2h-1zM282 302h1v2h-1zM280 304h2v1h-2zM281 303h1v1h-1z" fill="#90ff68"/>
<path d="M280.0 303.5h5M282.5 301.0v5" stroke="#6eff80" fill="none"/>
<path d="M280 306h2v1h-2zM279 307h1v2h-1zM282 307h1v2h-1zM280 309h2v1h-2zM281 308h1v1h-1z" fill="#a8ff50"/>
<path d="M272.0 308.5h5M274.5 306.0v5" stroke="#6eff80" fill="none"/>
<path d="M269 309h2v1h-2zM268 310h1v2h-1zM271 310h1v2h-1zM269 312h2v1h-2zM270 311h1v1h-1z" fill="#90ff68"/>
<path d="M280.0 311.5h5M282.5 309.0v5" stroke="#6eff80" fill="none"/>
<path d="M289 309h2v1h-2zM288 310h1v2h-1zM291 310h1v2h-1zM289 312h2v1h-2zM290 311h1v1h-1z" fill="#a8ff50"/>
<path d="M272.0 312.5h5M274.5 310.0v5" stroke="#6eff80" fill="none"/>
<path d="M270 313h2v1h-2zM269 314h1v2h-1zM272 314h1v2h-1zM270 316h2v1h-2zM271 315h1v1h-1z" fill="#90ff68"/>
<path d="M271.0 315.5h5M273.5 313.0v5" stroke="#6eff80" fill="none"/>
<path d="M271 316h2v1h-2zM270 317h1v2h-1zM273 317h1v2h-1zM271 319h2v1h-2zM272 318h1v1h-1z" fill="#90ff68"/>
<path d="M262.0 319.5h5M264.5 317.0v5" stroke="#6eff80" fill="none"/>
<path d="M278 316h2v1h-2zM277 317h1v2h-1zM280 317h1v2h-1zM278 319h2v1h-2zM279 318h1v1h-1z" fill="#a8ff50"/>
<path d="M273.0 320.5h5M275.5 318.0v5" stroke="#6eff80" fill="none"/>
<path d="M265.0 321.5h5M267.5 319.0v5" stroke="#6eff80" fill="none"/>
<path d="M271 321h2v1h-2zM270 322h1v2h-1zM273 322h1v2h-1zM271 324h2v1h-2zM272 323h1v1h-1z" fill="#90ff68"/>
<path d="M279 321h2v1h-2zM278 322h1v2h-1zM281 322h1v2h-1zM279 324h2v1h-2zM280 323h1v1h-1z" fill="#90ff68"/>
<path d="M273.0 325.5h5M275.5 323.0v5" stroke="#6eff80" fill="none"/>
<path d="M267 324h2v1h-2zM266 325h1v2h-1zM269 325h1v2h-1zM267 327h2v1h-2zM268 326h1v1h-1z" fill="#90ff68"/>
<path d="M270.0 327.5h5M272.5 325.0v5" stroke="#6eff80" fill="none"/>
<path d="M287 324h2v1h-2zM286 325h1v2h-1zM289 325h1v2h-1zM287 327h2v1h-2zM288 326h1v1h-1z" fill="#a8ff50"/>
<path d="M276 328h2v1h-2zM275 329h1v2h-1zM278 329h1v2h-1zM276 331h2v1h-2zM277 330h1v1h-1z" fill="#a8ff50"/>
<path d="M279.0 331.5h5M281.5 329.0v5" stroke="#6eff80" fill="none"/>
<path d="M266.0 331.5h5M268.5 329.0v5" stroke="#6eff80" fill="none"/>
<path d="M263.0 333.5h5M265.5 331.0v5" stroke="#6eff80" fill="none"/>
<path d="M275.0 334.5h5M277.5 332.0v5" stroke="#6eff80" fill="none"/>
<path d="M258.0 336.5h5M260.5 334.0v5" stroke="#6eff80" fill="none"/>
<path d="M272 335h2v1h-2zM271 336h1v2h-1zM274 336h1v2h-1zM272 338h2v1h-2zM273 337h1v1h-1z" fill="#90ff68"/>
<path d="M292 335h2v1h-2zM291 336h1v2h-1zM294 336h1v2h-1zM292 338h2v1h-2zM293 337h1v1h-1z" fill="#a8ff50"/>
<path d="M272.0 341.5h5M274.5 339.0v5" stroke="#6eff80" fill="none"/>
<path d="M257 345h2v1h-2zM256 346h1v2h-1zM259 346h1v2h-1zM257 348h2v1h-2zM258 347h1v1h-1z" fill="#a8ff50"/>
<path d="M265 345h2v1h-2zM264 346h1v2h-1zM267 346h1v2h-1zM265 348h2v1h-2zM266 347h1v1h-1z" fill="#90ff68"/>
<path d="M262 346h2v1h-2zM261 347h1v2h-1zM264 347h1v2h-1zM262 349h2v1h-2zM263 348h1v1h-1z" fill="#90ff68"/>
<path d="M269.0 348.5h5M271.5 346.0v5" stroke="#6eff80" fill="none"/>
<path d="M277 346h2v1h-2zM276 347h1v2h-1zM279 347h1v2h-1zM277 349h2v1h-2zM278 348h1v1h-1z" fill="#a8ff50"/>
<path d="M296.0 348.5h5M298.5 346.0v5" stroke="#6eff80" fill="none"/>
<path d="M242.0 329.5h5M244.5 327.0v5" stroke="#6eff80" fill="none"/>
<path d="M240.0 336.5h5M242.5 334.0v5" stroke="#6eff80" fill="none"/>
<path d="M238 350h2v1h-2zM237 351h1v2h-1zM240 351h1v2h-1zM238 353h2v1h-2zM239 352h1v1h-1z" fill="#90ff68"/>
<path d="M253 349h2v1h-2zM252 350h1v2h-1zM255 350h1v2h-1zM253 352h2v1h-2zM254 351h1v1h-1z" fill="#90ff68"/>
<path d="M246 359h2v1h-2zM245 360h1v2h-1zM248 360h1v2h-1zM246 362h2v1h-2zM247 361h1v1h-1z" fill="#90ff68"/>
<path d="M255 358h2v1h-2zM254 359h1v2h-1zM257 359h1v2h-1zM255 361h2v1h-2zM256 360h1v1h-1z" fill="#90ff68"/>
<path d="M196.0 362.5h5M198.5 360.0v5" stroke="#6eff80" fill="none"/>
<path d="M265.0 361.5h5M267.5 359.0v5" stroke="#6eff80" fill="none"/>
<path d="M274.0 365.5h5M276.5 363.0v5" stroke="#6eff80" fill="none"/>
<path d="M297 365h2v1h-2zM296 366h1v2h-1zM299 366h1v2h-1zM297 368h2v1h-2zM298 367h1v1h-1z" fill="#90ff68"/>
<path d="M243.0 372.5h5M245.5 370.0v5" stroke="#6eff80" fill="none"/>
<path d="M251 373h2v1h-2zM250 374h1v2h-1zM253 374h1v2h-1zM251 376h2v1h-2zM252 375h1v1h-1z" fill="#90ff68"/>
<path d="M277 375h2v1h-2zM276 376h1v2h-1zM279 376h1v2h-1zM277 378h2v1h-2zM278 377h1v1h-1z" fill="#a8ff50"/>
<path d="M267.0 379.5h5M269.5 377.0v5" stroke="#6eff80" fill="none"/>
<path d="M257 380h2v1h-2zM256 381h1v2h-1zM259 381h1v2h-1zM257 383h2v1h-2zM258 382h1v1h-1z" fill="#90ff68"/>
<path d="M257 385h2v1h-2zM256 386h1v2h-1zM259 386h1v2h-1zM257 388h2v1h-2zM258 387h1v1h-1z" fill="#90ff68"/>
<path d="M185.0 330.5h5M187.5 328.0v5" stroke="#6eff80" fill="none"/>
<path d="M174.0 334.5h5M176.5 332.0v5" stroke="#6eff80" fill="none"/>
<path d="M179.0 339.5h5M181.5 337.0v5" stroke="#6eff80" fill="none"/>
<path d="M171.0 355.5h5M173.5 353.0v5" stroke="#6eff80" fill="none"/>
<path d="M179.0 358.5h5M181.5 356.0v5" stroke="#6eff80" fill="none"/>
<path d="M172.0 360.5h5M174.5 358.0v5" stroke="#6eff80" fill="none"/>
<path d="M175.0 362.5h5M177.5 360.0v5" stroke="#6eff80" fill="none"/>
<path d="M162.0 366.5h5M164.5 364.0v5" stroke="#6eff80" fill="none"/>
<path d="M158.0 373.5h5M160.5 371.0v5" stroke="#6eff80" fill="none"/>
<path d="M231.0 371.5h5M233.5 369.0v5" stroke="#6eff80" fill="none"/>
<path d="M213 371h2v1h-2zM212 372h1v2h-1zM215 372h1v2h-1zM213 374h2v1h-2zM214 373h1v1h-1z" fill="#90ff68"/>
<path d="M214.0 378.5h5M216.5 376.0v5" stroke="#6eff80" fill="none"/>
<path d="M139 326h2v1h-2zM138 327h1v2h-1zM141 327h1v2h-1zM139 329h2v1h-2zM140 328h1v1h-1z" fill="#90ff68"/>
<path d="M133 355h2v1h-2zM132 356h1v2h-1zM135 356h1v2h-1zM133 358h2v1h-2zM134 357h1v1h-1z" fill="#90ff68"/>
<path d="M147.0 367.5h5M149.5 365.0v5" stroke="#6eff80" fill="none"/>
<path d="M169 384h2v1h-2zM168 385h1v2h-1zM171 385h1v2h-1zM169 387h2v1h-2zM170 386h1v1h-1z" fill="#90ff68"/>
<path d="M161 410h2v1h-2zM160 411h1v2h-1zM163 411h1v2h-1zM161 413h2v1h-2zM162 412h1v1h-1z" fill="#90ff68"/>
<path d="M124.0 423.5h5M126.5 421.0v5" stroke="#6eff80" fill="none"/>
<path d="M199 379h2v1h-2zM198 380h1v2h-1zM201 380h1v2h-1zM199 382h2v1h-2zM200 381h1v1h-1z" fill="#90ff68"/>
<path d="M245 398h2v1h-2zM244 399h1v2h-1zM247 399h1v2h-1zM245 401h2v1h-2zM246 400h1v1h-1z" fill="#90ff68"/>
<path d="M238.0 405.5h5M240.5 403.0v5" stroke="#6eff80" fill="none"/>
<path d="M226.0 420.5h5M228.5 418.0v5" stroke="#6eff80" fill="none"/>
<path d="M245 420h2v1h-2zM244 421h1v2h-1zM247 421h1v2h-1zM245 423h2v1h-2zM246 422h1v1h-1z" fill="#90ff68"/>
<path d="M350.0 373.5h5M352.5 371.0v5" stroke="#6eff80" fill="none"/>
<path d="M267 404h2v1h-2zM266 405h1v2h-1zM269 405h1v2h-1zM267 407h2v1h-2zM268 406h1v1h-1z" fill="#90ff68"/>
<path d="M319 405h2v1h-2zM318 406h1v2h-1zM321 406h1v2h-1zM319 408h2v1h-2zM320 407h1v1h-1z" fill="#90ff68"/>
<path d="M298 440h2v1h-2zM297 441h1v2h-1zM300 441h1v2h-1zM298 443h2v1h-2zM299 442h1v1h-1z" fill="#90ff68"/>
<path d="M146.0 439.5h5M148.5 437.0v5" stroke="#6eff80" fill="none"/>
<path d="M167 462h2v1h-2zM166 463h1v2h-1zM169 463h1v2h-1zM167 465h2v1h-2zM168 464h1v1h-1z" fill="#90ff68"/>
<path d="M128 488h2v1h-2zM127 489h1v2h-1zM130 489h1v2h-1zM128 491h2v1h-2zM129 490h1v1h-1z" fill="#90ff68"/>
<path d="M326.0 302.5h5M328.5 300.0v5" stroke="#6eff80" fill="none"/>
<path d="M339 301h2v1h-2zM338 302h1v2h-1zM341 302h1v2h-1zM339 304h2v1h-2zM340 303h1v1h-1z" fill="#90ff68"/>
  </g>
  <!-- colour bar -->
  <rect x="593" y="341" width="15" height="241.5" fill="url(#jet)"/>
  <path d="M608.5 341.5V582.2M608 341.5h7M608 346.5h4M608 351.5h4M608 355.5h4M608 360.5h4M608 365.5h7M608 370.5h4M608 375.5h4M608 380.5h4M608 384.5h4M608 389.5h7M608 394.5h4M608 399.5h4M608 404.5h4M608 408.5h4M608 413.5h7M608 418.5h4M608 423.5h4M608 428.5h4M608 432.5h4M608 437.5h7M608 442.5h4M608 447.5h4M608 452.5h4M608 457.5h4M608 461.5h7M608 466.5h4M608 471.5h4M608 476.5h4M608 481.5h4M608 485.5h7M608 490.5h4M608 495.5h4M608 500.5h4M608 505.5h4M608 509.5h7M608 514.5h4M608 519.5h4M608 524.5h4M608 529.5h4M608 534.5h7M608 538.5h4M608 543.5h4M608 548.5h4M608 553.5h4M608 558.5h7M608 562.5h4M608 567.5h4M608 572.5h4M608 577.5h4M608 582.5h7" stroke="#000" stroke-width="1" fill="none"/>
  <!-- legend + -->
  <path d="M668.5 402.5h8M672.5 398.5v8" stroke="#0000ff" stroke-width="1.2"/>
  <circle cx="672.7" cy="522.7" r="2.6" fill="none" stroke="#ff0000" stroke-width="1.2"/>
  <!-- azimuth arrow -->
  <path d="M725.6 320.3 C725.6 317.6, 722.8 317, 722.4 319.6" fill="none" stroke="#000" stroke-width="1.1"/>
  <path d="M720.6 319.2 L723.9 319.6 L722.2 321.4 Z" fill="#000"/>
</svg>
<div class="t" style="left:49px;top:21px;font-family:'Liberation Serif',serif;font-size:11px;color:#3b2b3b;-webkit-text-stroke:0.2px #3b2b3b;">Lowell</div>
<div class="t" style="left:20px;top:34px;font-family:'Liberation Sans',sans-serif;font-size:11px;letter-spacing:-0.25px;color:#9c2d62;-webkit-text-stroke:0.25px #9c2d62;">DIGISONDE</div>
<div class="t hb" style="left:400px;top:9px;">STATION NAME    YYYY DATE  DDD HHMMSS AXN PPS IGP</div>
<div class="t hb" style="left:400px;top:26px;">Gakona          2005 Aug14 226 154905 417 100 +0F</div>
<div class="t lb" style="left:280.8px;top:48.3px;font-size:12.6px;letter-spacing:-0.6px;">North</div>
<div class="t sb" style="left:281.5px;top:567.5px;letter-spacing:-0.2px;">South</div>
<div class="t lb" style="left:15.5px;top:309px;font-size:12.6px;letter-spacing:-0.6px;">West</div>
<div class="t sb" style="left:552px;top:307.5px;letter-spacing:0.1px;">East</div>
<div class="t st" style="left:595px;top:61.5px;">Num of Sources           121
Min Freq, kHz           1780
Max Freq, kHz           1800
Min Range, km             80
Max Range, km            115
Max Amp, dB               85
Max SNR Amp, dB           60
Min SNR Amp, dB            9
Avg SNR Amp, dB           27
Max RMS Err, deg        37.0
Min RMS Err, deg         0.0
Avg RMS Err, deg        10.9
Doppler Res, Hz       0.3906
CIT, sec                2.56
Num of CITs                4
Polarization          O-mode
Center of Sources, deg:
          Zenith         8.3
          Azimuth        118</div>
<div class="t cb" style="left:617.5px;top:336.0px;">25.0</div>
<div class="t cb" style="left:617.5px;top:360.1px;">20.0</div>
<div class="t cb" style="left:617.5px;top:384.1px;">15.0</div>
<div class="t cb" style="left:617.5px;top:408.2px;">10.0</div>
<div class="t cb" style="left:617.5px;top:432.3px;">5.0</div>
<div class="t cb" style="left:617.5px;top:456.4px;">0</div>
<div class="t cb" style="left:617.5px;top:480.4px;">-5.0</div>
<div class="t cb" style="left:617.5px;top:504.5px;">-10.0</div>
<div class="t cb" style="left:617.5px;top:528.6px;">-15.0</div>
<div class="t cb" style="left:617.5px;top:552.6px;">-20.0</div>
<div class="t cb" style="left:617.5px;top:576.7px;">-25.0</div>
<div class="t" style="left:682.5px;top:397.5px;font-family:'Liberation Sans',sans-serif;font-weight:bold;font-size:11px;letter-spacing:0.35px;color:#0000e6;-webkit-text-stroke:0.2px #0000e6;">Positive</div>
<div class="t" style="left:682.5px;top:517.5px;font-family:'Liberation Sans',sans-serif;font-weight:bold;font-size:11px;letter-spacing:0.7px;color:#e60000;-webkit-text-stroke:0.2px #e60000;">Negative</div>
<div class="t" style="left:641.7px;top:465.5px;width:44px;height:12px;font-family:'Liberation Sans',sans-serif;font-weight:bold;font-size:10px;transform:rotate(-90deg);">Doppler, Hz</div>
<div class="t it" style="left:11px;top:583.5px;">Geographic coordinates</div>
<div class="t it" style="left:419px;top:583.5px;">Zenith: max 40<span style="letter-spacing:-3.4px">°</span>  step 5°</div>
<div class="t" style="left:654px;top:585px;font-family:'Liberation Sans',sans-serif;font-size:10px;letter-spacing:0.2px;">ShowSkymap v 1.0   SD v 4.2</div>
</body></html>
